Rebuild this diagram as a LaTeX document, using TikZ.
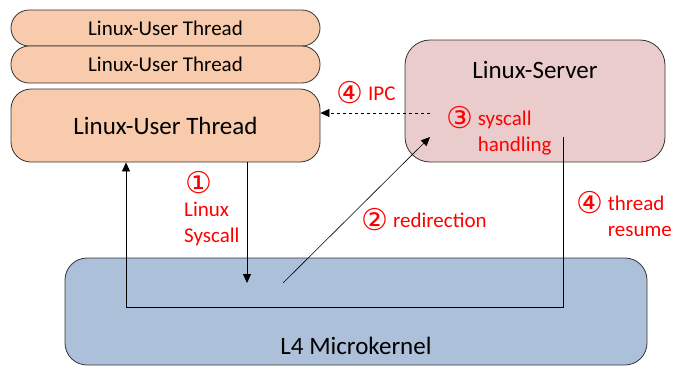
\documentclass[tikz,border=0pt]{standalone}
\usepackage{fontspec}
\setmainfont{Carlito}
\newfontfamily\circfont{DejaVu Sans}
\usetikzlibrary{arrows.meta}
\definecolor{threadfill}{HTML}{F8CBAD}
\definecolor{serverfill}{HTML}{EACCCC}
\definecolor{kernelfill}{HTML}{ADC0D9}
\newcommand{\stepno}[1]{\raisebox{-3pt}{\smash{\circfont\fontsize{30}{30}\selectfont #1}}}
\tikzstyle{thread} = [rectangle,
minimum width=309pt,
minimum height=36pt,
inner sep=0pt,
draw=black!80,
line width=0.8pt,
fill=threadfill,
rounded corners=18pt,
font=\fontsize{21}{25}\selectfont]
\tikzstyle{bigbox} = [rectangle,
inner sep=0pt,
draw=black!80,
line width=0.8pt,
font=\fontsize{25}{30}\selectfont]
\tikzstyle{steplabel} = [text=red, inner sep=0pt, align=left,
font=\fontsize{21}{26}\selectfont]
\tikzstyle{arrow} = [line width=0.8pt,-{Triangle[length=9pt,width=8pt]}]

\begin{document}
\begin{tikzpicture}[x=1pt, y=-1pt]
    \useasboundingbox (0,0) rectangle (673,368);
    \node (kernel) [bigbox, fill=kernelfill, minimum width=582pt, minimum height=107pt, rounded corners=22pt,
      label={[yshift=-34pt, font=\fontsize{25}{30}\selectfont]center:L4 Microkernel}] at (356,311.5) {};
    \node (server) [bigbox, fill=serverfill, minimum width=260pt, minimum height=122pt, rounded corners=25pt,
      label={[yshift=31pt, font=\fontsize{25}{30}\selectfont]center:Linux-Server}] at (535,101) {};

    \node (thread1) [thread] at (165.5,28) {Linux-User Thread};
    \node (thread2) [thread, minimum height=37pt] at (165.5,64.5) {Linux-User Thread};
    \node (thread3) [thread, bigbox, fill=threadfill, minimum height=73pt, rounded corners=20pt] at (165.5,125.5) {Linux-User Thread};

    \node (ipc) [steplabel] at (366,95) {\stepno{④} IPC};
    \node (handling) [steplabel, anchor=base west] at (446,125) {\stepno{③} \begin{tabular}[t]{@{}l@{}}syscall\\handling\end{tabular}};
    \node (syscall) [steplabel, anchor=base west] at (184,242) {\hspace{1pt}\stepno{①}\\Linux\\Syscall};
    \node (redirection) [steplabel] at (424,222) {\stepno{②} redirection};
    \node (resume) [steplabel, anchor=base west] at (576,210) {\stepno{④} \begin{tabular}[t]{@{}l@{}}thread\\resume\end{tabular}};

    \coordinate (sysin) at (247,283);
    \coordinate (redir) at (283,283);
    \coordinate (handle) at (430,137);
    \coordinate (ipcout) at (430,113);
    \coordinate (resumeout) at (563,137);
    \coordinate (back) at (126,307);

    \draw [arrow] (thread3.south -| sysin) -- (sysin);
    \draw [arrow, line width=0.6pt] (redir) -- (handle);
    \draw [arrow, dashed, line width=0.6pt] (ipcout) -- (ipcout -| thread3.east);
    \draw [arrow] (resumeout) |- (back) -- (back |- thread3.south);
  \end{tikzpicture}
\end{document}
